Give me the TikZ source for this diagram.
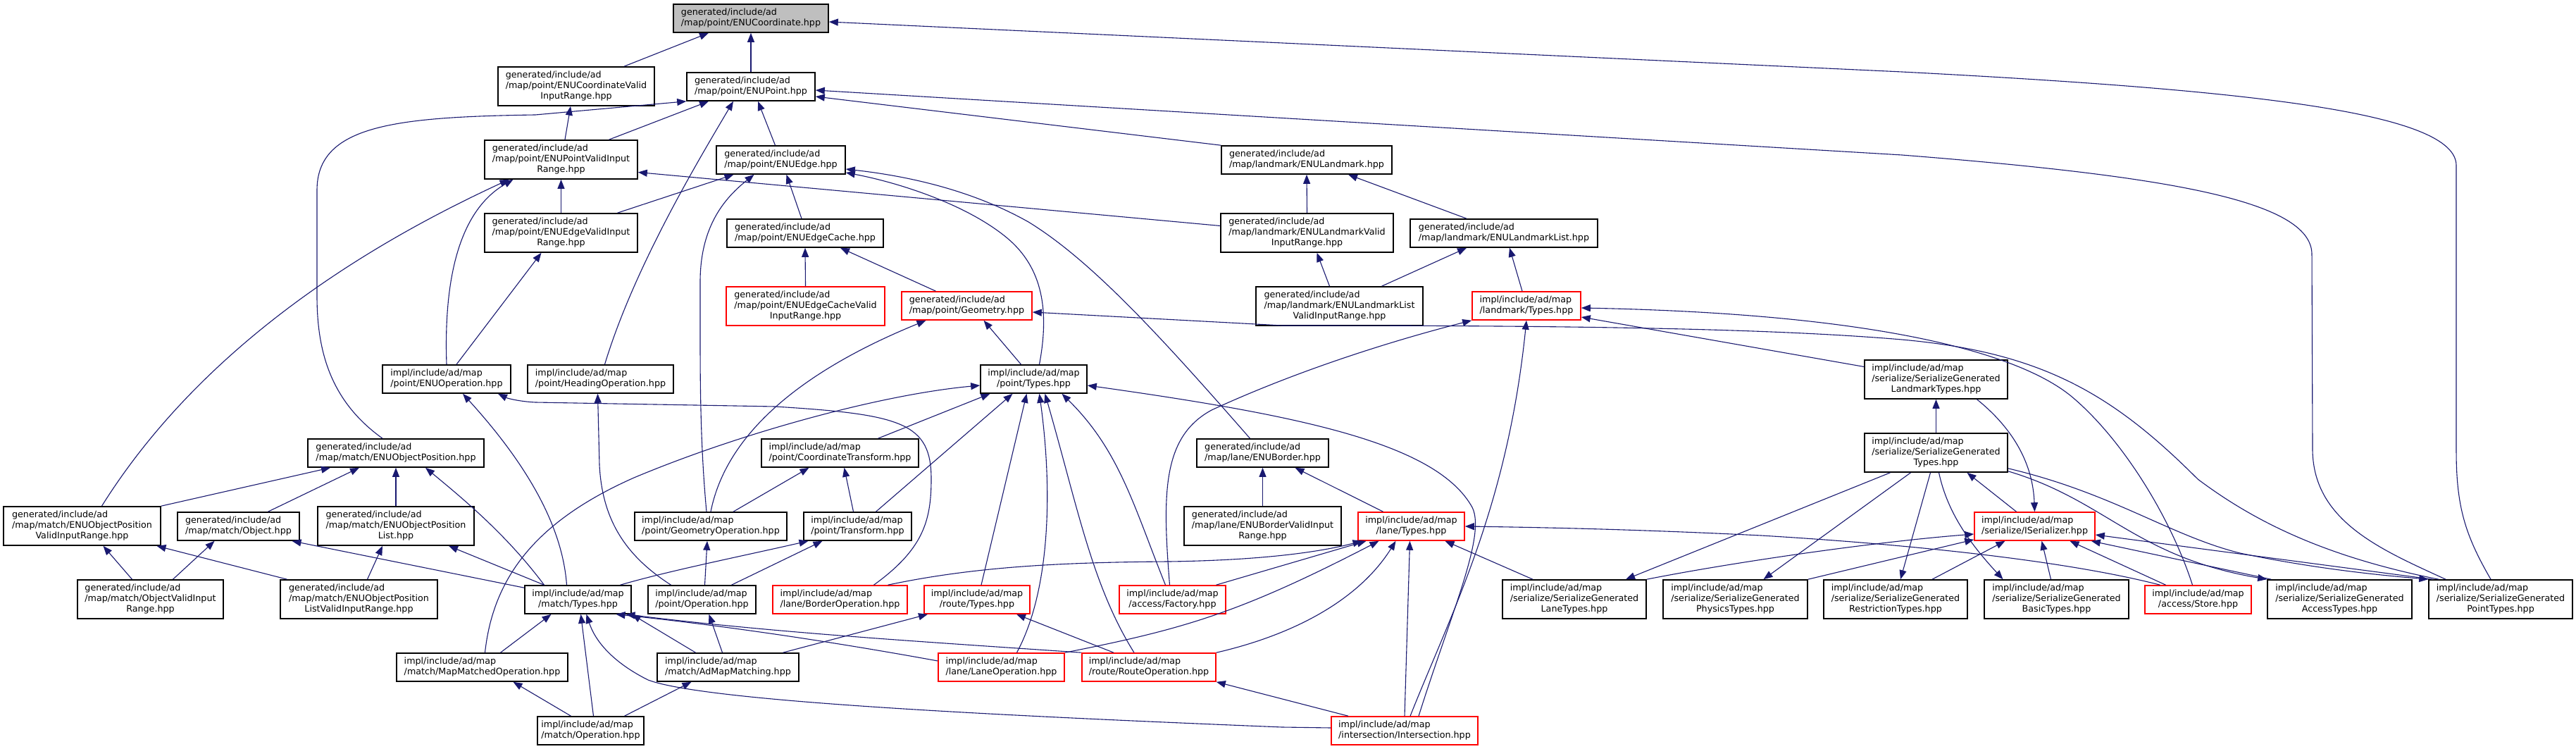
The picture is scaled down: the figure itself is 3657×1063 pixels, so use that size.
\documentclass[tikz,border=0pt]{standalone}
\usepackage{fontspec}
\setmainfont{DejaVu Sans}
\usetikzlibrary{arrows.meta}
\definecolor{edgec}{HTML}{191970}
\newcommand\gtxt[1]{\begin{tabular}{@{}c@{}}\multicolumn{1}{@{}l@{}}{generated/include/ad}\\#1\end{tabular}}
\newcommand\itxt[1]{\begin{tabular}{@{}c@{}}\multicolumn{1}{@{}l@{}}{impl/include/ad/map}\\#1\end{tabular}}
\newcommand\bx[7]{\node[#6, minimum width={(#4-#2)*0.5pt}, minimum height={(#5-#3)*0.5pt}] (#1) at ({(#2+#4)/2},{(#3+#5)/2}) {#7};}
\tikzset{
  box/.style={draw=black, line width=0.8pt, fill=white, inner sep=0pt, font=\fontsize{6.35}{7.35}\selectfont},
  rbox/.style={box, draw=red},
  gbox/.style={box, fill=gray!50},
  lnk/.style={draw=edgec, line width=0.55pt, -{Triangle[length=6.5pt,width=5pt]}}
}
\begin{document}
\begin{tikzpicture}[x=0.5pt,y=-0.5pt]
\fill[white] (0,0) rectangle (3657,1063);
\useasboundingbox (0,0) rectangle (3657,1063);
\bx{A}{956}{6}{1176}{46}{gbox}{\gtxt{/map/point/ENUCoordinate.hpp}}
\bx{B}{707}{95}{929}{150}{box}{\gtxt{/map/point/ENUCoordinateValid\\InputRange.hpp}}
\bx{C}{975}{103}{1157}{143}{box}{\gtxt{/map/point/ENUPoint.hpp}}
\bx{D}{688}{199}{905}{254}{box}{\gtxt{/map/point/ENUPointValidInput\\Range.hpp}}
\bx{E}{1017}{207}{1200}{247}{box}{\gtxt{/map/point/ENUEdge.hpp}}
\bx{F}{688}{303}{905}{358}{box}{\gtxt{/map/point/ENUEdgeValidInput\\Range.hpp}}
\bx{G}{1032}{311}{1254}{351}{box}{\gtxt{/map/point/ENUEdgeCache.hpp}}
\bx{H}{1031}{407}{1256}{462}{rbox}{\gtxt{/map/point/ENUEdgeCacheValid\\InputRange.hpp}}
\bx{I}{1280}{414}{1465}{454}{rbox}{\gtxt{/map/point/Geometry.hpp}}
\bx{J}{1734}{207}{1976}{247}{box}{\gtxt{/map/landmark/ENULandmark.hpp}}
\bx{K}{1733}{303}{1978}{358}{box}{\gtxt{/map/landmark/ENULandmarkValid\\InputRange.hpp}}
\bx{L}{2002}{311}{2268}{351}{box}{\gtxt{/map/landmark/ENULandmarkList.hpp}}
\bx{M}{1783}{407}{2020}{462}{box}{\gtxt{/map/landmark/ENULandmarkList\\ValidInputRange.hpp}}
\bx{N}{2090}{414}{2244}{454}{rbox}{\itxt{/landmark/Types.hpp}}
\bx{O}{2647}{511}{2850}{566}{box}{\itxt{/serialize/SerializeGenerated\\LandmarkTypes.hpp}}
\bx{P}{2647}{615}{2850}{670}{box}{\itxt{/serialize/SerializeGenerated\\Types.hpp}}
\bx{Q}{543}{518}{725}{558}{box}{\itxt{/point/ENUOperation.hpp}}
\bx{R}{749}{518}{956}{558}{box}{\itxt{/point/HeadingOperation.hpp}}
\bx{S}{1392}{518}{1543}{558}{box}{\itxt{/point/Types.hpp}}
\bx{T}{437}{623}{687}{663}{box}{\gtxt{/map/match/ENUObjectPosition.hpp}}
\bx{U}{1081}{623}{1304}{663}{box}{\itxt{/point/CoordinateTransform.hpp}}
\bx{V}{1699}{623}{1886}{663}{box}{\gtxt{/map/lane/ENUBorder.hpp}}
\bx{W}{5}{719}{228}{774}{box}{\gtxt{/map/match/ENUObjectPosition\\ValidInputRange.hpp}}
\bx{X}{252}{727}{425}{767}{box}{\gtxt{/map/match/Object.hpp}}
\bx{Y}{451}{719}{673}{774}{box}{\gtxt{/map/match/ENUObjectPosition\\List.hpp}}
\bx{Z}{901}{727}{1117}{767}{box}{\itxt{/point/GeometryOperation.hpp}}
\bx{AA}{1141}{727}{1294}{767}{box}{\itxt{/point/Transform.hpp}}
\bx{AB}{1681}{719}{1904}{774}{box}{\gtxt{/map/lane/ENUBorderValidInput\\Range.hpp}}
\bx{AC}{1928}{727}{2079}{767}{rbox}{\itxt{/lane/Types.hpp}}
\bx{AD}{2803}{727}{2974}{767}{rbox}{\itxt{/serialize/ISerializer.hpp}}
\bx{AE}{110}{823}{317}{878}{box}{\gtxt{/map/match/ObjectValidInput\\Range.hpp}}
\bx{AF}{398}{823}{621}{878}{box}{\gtxt{/map/match/ENUObjectPosition\\ListValidInputRange.hpp}}
\bx{AG}{745}{831}{896}{871}{box}{\itxt{/match/Types.hpp}}
\bx{AH}{920}{831}{1073}{871}{box}{\itxt{/point/Operation.hpp}}
\bx{AI}{1097}{831}{1288}{871}{rbox}{\itxt{/lane/BorderOperation.hpp}}
\bx{AJ}{1312}{831}{1462}{871}{rbox}{\itxt{/route/Types.hpp}}
\bx{AK}{1589}{831}{1740}{871}{rbox}{\itxt{/access/Factory.hpp}}
\bx{AL}{2133}{823}{2337}{878}{box}{\itxt{/serialize/SerializeGenerated\\LaneTypes.hpp}}
\bx{AM}{2361}{823}{2566}{878}{box}{\itxt{/serialize/SerializeGenerated\\PhysicsTypes.hpp}}
\bx{AN}{2589}{823}{2793}{878}{box}{\itxt{/serialize/SerializeGenerated\\RestrictionTypes.hpp}}
\bx{AO}{2817}{823}{3022}{878}{box}{\itxt{/serialize/SerializeGenerated\\BasicTypes.hpp}}
\bx{AP}{3045}{831}{3196}{871}{rbox}{\itxt{/access/Store.hpp}}
\bx{AQ}{3219}{823}{3424}{878}{box}{\itxt{/serialize/SerializeGenerated\\AccessTypes.hpp}}
\bx{AR}{3448}{823}{3652}{878}{box}{\itxt{/serialize/SerializeGenerated\\PointTypes.hpp}}
\bx{AS}{563}{927}{806}{967}{box}{\itxt{/match/MapMatchedOperation.hpp}}
\bx{AT}{933}{927}{1134}{967}{box}{\itxt{/match/AdMapMatching.hpp}}
\bx{AU}{1332}{927}{1511}{967}{rbox}{\itxt{/lane/LaneOperation.hpp}}
\bx{AV}{1536}{927}{1726}{967}{rbox}{\itxt{/route/RouteOperation.hpp}}
\bx{AW}{763}{1017}{914}{1057}{box}{\itxt{/match/Operation.hpp}}
\bx{AX}{1890}{1017}{2098}{1057}{rbox}{\itxt{/intersection/Intersection.hpp}}
% edges
\draw[lnk] ([xshift=34pt]B.north) -- ([xshift=-30pt]A.south);
\draw[lnk] (C.north) -- (A.south);
\draw[lnk] ([xshift=-7pt]AR.north) .. controls (3500,760) and (3487,720) .. (3487,640) -- (3487,235) .. controls (3487,160) and (3200,128) .. (2700,102) -- ([yshift=-2.5pt]A.east);
\draw[lnk] ([xshift=-39pt]AR.north) .. controls (3380,780) and (3285,740) .. (3283,640) -- (3282,360) .. controls (3280,285) and (3080,250) .. (2700,220) -- ([yshift=-2.5pt]C.east);
\draw[lnk] ([xshift=2.75pt]D.north) -- ([xshift=-4pt]B.south);
\draw[lnk] ([xshift=34pt]D.north) -- ([xshift=-30pt]C.south);
\draw[lnk] ([xshift=-9.5pt]T.north) .. controls (470,570) and (450,500) .. (450,420) -- (450,270) .. controls (450,178) and (560,166) .. (760,163) -- (C.south west);
\draw[lnk] ([xshift=3pt]R.north) .. controls (900,380) and (990,230) .. ([xshift=-12.5pt]C.south);
\draw[lnk] ([xshift=-4pt]E.north) -- ([xshift=5pt]C.south);
\draw[lnk] (J.north west) -- ([yshift=-7pt]C.east);
\draw[lnk] (F.north) -- (D.south);
\draw[lnk] ([xshift=14pt]W.north) .. controls (300,470) and (560,330) .. ([xshift=-37pt]D.south);
\draw[lnk] (Q.north) .. controls (630,400) and (650,300) .. ([xshift=-34pt]D.south);
\draw[lnk] ([yshift=5pt]K.west) -- ([yshift=-9pt]D.east);
\draw[lnk] ([xshift=40pt]F.north) -- ([xshift=-33.5pt]E.south);
\draw[lnk] ([xshift=-3pt]Z.north) .. controls (995,640) and (994,560) .. (994,480) -- (994,400) .. controls (994,320) and (1030,280) .. ([xshift=-19pt]E.south);
\draw[lnk] ([xshift=-2.5pt]G.north) -- ([xshift=4pt]E.south);
\draw[lnk] ([xshift=-9pt]V.north) .. controls (1650,480) and (1550,370) .. (1460,315) .. controls (1380,270) and (1290,250) .. ([yshift=-6.5pt]E.east);
\draw[lnk] ([xshift=4pt]S.north) .. controls (1490,440) and (1480,380) .. (1430,338) .. controls (1370,288) and (1270,258) .. ([yshift=-9pt]E.east);
\draw[lnk] (H.north) -- (G.south);
\draw[lnk] ([xshift=-22pt]I.north) -- ([xshift=25pt]G.south);
\draw[lnk] ([xshift=7pt]Q.north) -- ([xshift=-14pt]F.south);
\draw[lnk] ([xshift=-9pt]S.north) -- ([xshift=12pt]I.south);
\draw[lnk] (Z.north) .. controls (1030,620) and (1130,530) .. ([xshift=-29pt]I.south);
\draw[lnk] ([xshift=-44pt]AR.north) .. controls (3300,790) and (3200,740) .. (3120,680) .. controls (3000,560) and (2900,500) .. (2700,482) .. controls (2500,465) and (2200,462) .. (1820,462) -- ([yshift=-4.5pt]I.east);
\draw[lnk] (K.north) -- (J.south);
\draw[lnk] ([xshift=-26.5pt]L.north) -- ([xshift=29.5pt]J.south);
\draw[lnk] ([xshift=-7pt]M.north) -- ([xshift=7pt]K.south);
\draw[lnk] ([xshift=30pt]M.north) -- ([xshift=-26.5pt]L.south);
\draw[lnk] ([xshift=-3pt]N.north) -- ([xshift=4pt]L.south);
\draw[lnk] ([xshift=-2pt]AK.north) .. controls (1650,700) and (1650,620) .. (1720,582) .. controls (1850,522) and (1990,480) .. (N.south west);
\draw[lnk] ([xshift=-4pt]AP.north) .. controls (3080,730) and (3010,620) .. (2940,562) .. controls (2860,497) and (2650,445) .. ([yshift=-1.5pt]N.east);
\draw[lnk] ([yshift=9pt]O.west) -- ([yshift=-8pt]N.east);
\draw[lnk] ([xshift=4pt]AX.north) .. controls (2060,870) and (2140,720) .. (N.south);
\draw[lnk] (P.north) -- (O.south);
\draw[lnk] ([xshift=29pt]O.south) .. controls (2860,610) and (2886,660) .. (AD.north);
\draw[lnk] ([xshift=-13pt]AD.north) -- ([xshift=22pt]P.south);
\draw[lnk] ([xshift=-32.5pt]P.south) -- ([xshift=36.5pt]AL.north);
\draw[lnk] ([xshift=-18pt]P.south) -- ([xshift=20pt]AM.north);
\draw[lnk] ([xshift=-4pt]P.south) -- ([xshift=3.5pt]AN.north);
\draw[lnk] ([xshift=2pt]P.south) .. controls (2765,730) and (2800,775) .. ([xshift=-38pt]AO.north);
\draw[lnk] ([yshift=1pt]P.south east) .. controls (2990,710) and (3030,790) .. (AQ.north west);
\draw[lnk] ([yshift=3pt]P.south east) .. controls (3000,700) and (3080,760) .. (3180,785) .. controls (3300,810) and (3400,818) .. (AR.north west);
\draw[lnk] (AL.north east) .. controls (2450,800) and (2650,770) .. ([yshift=-5.5pt]AD.west);
\draw[lnk] (AM.north east) -- ([yshift=1pt]AD.south west);
\draw[lnk] ([xshift=26pt]AN.north) -- ([xshift=-21pt]AD.south);
\draw[lnk] ([xshift=-4pt]AO.north) -- ([xshift=5pt]AD.south);
\draw[lnk] ([xshift=-23pt]AP.north) -- ([xshift=25pt]AD.south);
\draw[lnk] ([xshift=3pt]AQ.north west) -- ([xshift=-3pt]AD.south east);
\draw[lnk] ([xshift=3pt]AR.north west) -- ([yshift=-6pt]AD.east);
\draw[lnk] ([xshift=-29.5pt]AL.north) -- ([xshift=24pt]AC.south);
\draw[lnk] ([xshift=-27pt]AP.north) .. controls (2950,800) and (2750,775) .. (2500,760) .. controls (2300,750) and (2150,748) .. (AC.east);
\draw[lnk] ([xshift=34pt]AI.north) .. controls (1380,805) and (1500,798) .. (1660,797) .. controls (1800,795) and (1880,782) .. ([xshift=-35pt]AC.south);
\draw[lnk] ([xshift=31pt]AK.north) -- ([xshift=-32pt]AC.south);
\draw[lnk] (AU.north east) .. controls (1680,893) and (1760,870) .. ([xshift=-23pt]AC.south);
\draw[lnk] (AV.north east) .. controls (1840,900) and (1930,850) .. ([xshift=-11pt]AC.south);
\draw[lnk] (AX.north) -- ([xshift=-1pt]AC.south);
\draw[lnk] ([xshift=-20pt]AC.north) -- ([xshift=23pt]V.south);
\draw[lnk] (AB.north) -- (V.south);
\draw[lnk] ([xshift=-22pt]AH.north) .. controls (890,790) and (855,740) .. (851,660) -- ([xshift=-2pt]R.south);
\draw[lnk] ([xshift=-8pt]AG.north) .. controls (798,740) and (740,650) .. ([xshift=11.5pt]Q.south);
\draw[lnk] ([xshift=24pt]AI.north) .. controls (1310,780) and (1322,740) .. (1322,680) .. controls (1322,600) and (1280,588) .. (1100,577) -- (760,571) .. controls (740,570) and (722,566) .. ([xshift=36.5pt]Q.south);
\draw[lnk] (W.north east) -- ([xshift=-46.5pt]T.south);
\draw[lnk] ([xshift=21pt]X.north) -- ([xshift=-26pt]T.south);
\draw[lnk] (Y.north) -- (T.south);
\draw[lnk] ([xshift=-24pt]AG.north) .. controls (720,760) and (660,710) .. ([xshift=21pt]T.south);
\draw[lnk] ([xshift=-13pt]AE.north) -- ([xshift=15pt]W.south);
\draw[lnk] ([xshift=16pt]AE.north) -- ([xshift=-17pt]X.south);
\draw[lnk] ([xshift=-51pt]AF.north) -- ([xshift=53pt]W.south);
\draw[lnk] ([xshift=6pt]AF.north) -- ([xshift=-9.5pt]Y.south);
\draw[lnk] ([yshift=-2pt]AG.north west) -- ([xshift=38pt]X.south);
\draw[lnk] ([xshift=-24pt]AG.north) -- ([xshift=37.5pt]Y.south);
\draw[lnk] ([xshift=2pt]AS.north) .. controls (700,820) and (760,740) .. (900,678) .. controls (1050,615) and (1250,560) .. ([yshift=-4.5pt]S.west);
\draw[lnk] ([xshift=27pt]U.north) -- ([xshift=-31pt]S.south);
\draw[lnk] ([xshift=13pt]AA.north) -- ([xshift=-15pt]S.south);
\draw[lnk] ([xshift=3pt]AJ.north) -- ([xshift=-5pt]S.south);
\draw[lnk] ([xshift=11pt]AU.north) .. controls (1490,840) and (1495,700) .. ([xshift=4pt]S.south);
\draw[lnk] ([xshift=-10.5pt]AV.north) .. controls (1550,830) and (1530,720) .. ([xshift=8pt]S.south);
\draw[lnk] ([xshift=-5pt]AK.north) .. controls (1610,720) and (1590,640) .. ([xshift=20pt]S.south);
\draw[lnk] ([xshift=10pt]AX.north) .. controls (2060,870) and (2110,760) .. (2090,720) .. controls (2040,630) and (1850,590) .. ([yshift=-4.5pt]S.east);
\draw[lnk] ([xshift=16pt]Z.north) -- ([xshift=-22pt]U.south);
\draw[lnk] ([xshift=-3pt]AA.north) -- ([xshift=3pt]U.south);
\draw[lnk] ([xshift=2pt]AH.north) -- ([xshift=-2.5pt]Z.south);
\draw[lnk] ([xshift=21pt]AH.north) -- ([xshift=-25pt]AA.south);
\draw[lnk] ([xshift=30pt]AG.north) .. controls (950,810) and (1050,790) .. ([xshift=-35pt]AA.south);
\draw[lnk] ([xshift=-4pt]AT.north) -- ([xshift=5pt]AH.south);
\draw[lnk] ([xshift=-23pt]AT.north) -- (AG.south east);
\draw[lnk] ([yshift=4.5pt]AU.west) .. controls (1150,905) and (1000,885) .. ([xshift=27pt]AG.south);
\draw[lnk] (AV.north west) .. controls (1300,910) and (1100,898) .. ([xshift=34pt]AG.south);
\draw[lnk] ([yshift=2pt]AX.west) -- (1820,1032) .. controls (1400,1015) and (1000,995) .. (920,965) .. controls (870,940) and (845,910) .. ([xshift=6pt]AG.south);
\draw[lnk] ([xshift=13pt]AS.north) -- ([xshift=-19pt]AG.south);
\draw[lnk] ([xshift=2pt]AW.north) -- ([xshift=2pt]AG.south);
\draw[lnk] ([xshift=-14pt]AW.north) -- ([xshift=22pt]AS.south);
\draw[lnk] ([xshift=24pt]AW.north) -- ([xshift=-26pt]AT.south);
\draw[lnk] ([xshift=39pt]AT.north) -- ([xshift=-35pt]AJ.south);
\draw[lnk] ([xshift=-25pt]AV.north) -- ([xshift=28pt]AJ.south);
\draw[lnk] ([xshift=-40pt]AX.north) -- (AV.south east);
\end{tikzpicture}
\end{document}
